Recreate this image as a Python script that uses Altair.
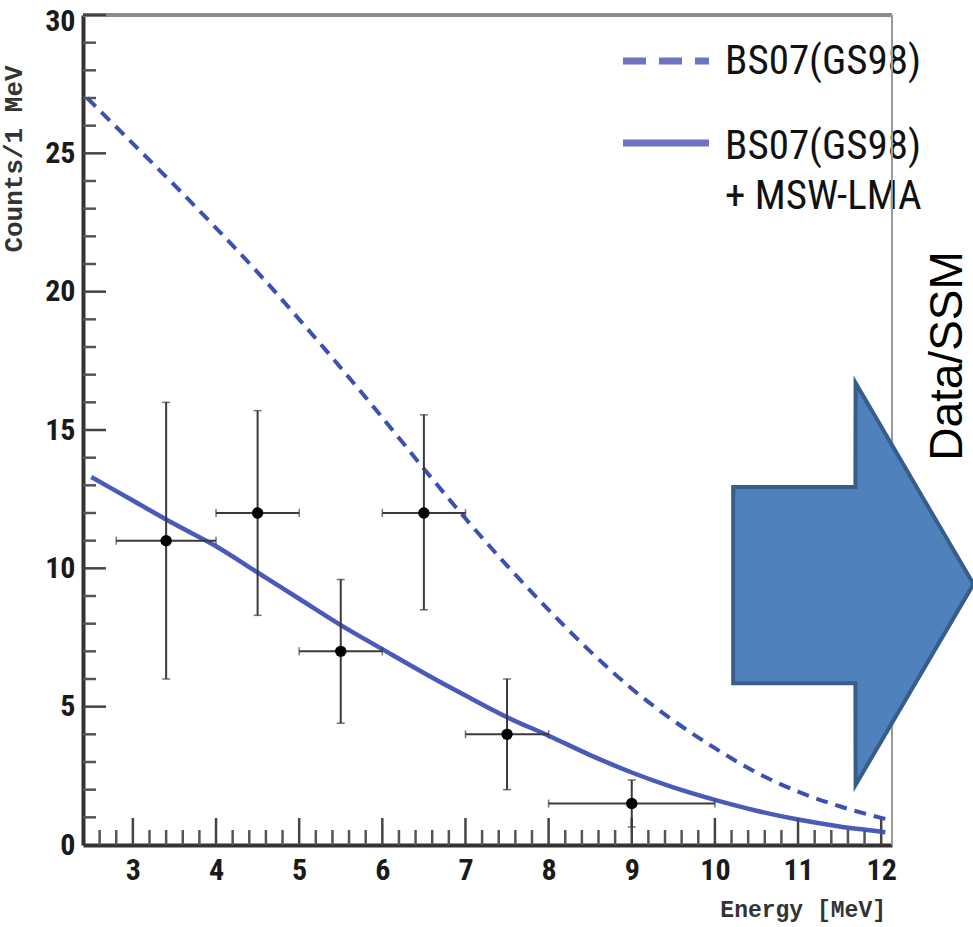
import altair as alt
import pandas as pd

# ---------------- data ----------------
# BS07(GS98) + MSW-LMA (solid curve)
osc_energy = [2.5, 3.0, 3.5, 4.0, 4.5, 5.0, 5.5, 6.0, 6.5, 7.0, 7.5, 8.0,
              8.5, 9.0, 9.5, 10.0, 10.5, 11.0, 11.5, 12.0, 12.05]
osc_counts = [13.3, 12.45, 11.6, 10.8, 9.85, 8.9, 7.95, 7.08, 6.22, 5.4, 4.62, 3.95,
              3.25, 2.62, 2.08, 1.63, 1.24, 0.92, 0.67, 0.48, 0.46]

# BS07(GS98) no oscillation (dashed curve)
ssm_energy = [2.45, 3.0, 3.5, 4.0, 4.5, 5.0, 5.5, 6.0, 6.5, 7.0, 7.5, 8.0,
              8.5, 9.0, 9.5, 10.0, 10.5, 11.0, 11.5, 12.0, 12.08]
ssm_counts = [27.0, 25.35, 23.85, 22.3, 20.7, 19.0, 17.25, 15.45, 13.6, 11.8, 10.1, 8.5,
              7.0, 5.65, 4.5, 3.5, 2.62, 1.93, 1.4, 0.98, 0.92]

# measured points with error bars
pt_energy = [3.4, 4.5, 5.5, 6.5, 7.5, 9.0]
pt_counts = [11, 12, 7, 12, 4, 1.5]
pt_e_lo = [2.8, 4.0, 5.0, 6.0, 7.0, 8.0]
pt_e_hi = [4.0, 5.0, 6.0, 7.0, 8.0, 10.0]
pt_c_lo = [6.0, 8.3, 4.4, 8.5, 2.0, 0.65]
pt_c_hi = [16.0, 15.7, 9.6, 15.55, 6.0, 2.35]

# axis tick labels
x_labels = [3, 4, 5, 6, 7, 8, 9, 10, 11, 12]
y_labels = [0, 5, 10, 15, 20, 25, 30]
x_minor = [round(2.4 + 0.2 * i, 1) for i in range(1, 49)
           if abs(2.4 + 0.2 * i - round(2.4 + 0.2 * i)) > 1e-6]
y_minor = [v for v in range(1, 30) if v % 5 != 0]
y_major = [5, 10, 15, 20, 25, 30]

# block arrow annotation (in Energy / Counts units), outline traced left to right
arrow_energy = [10.22, 11.69, 11.692, 13.11]
arrow_lo = [5.85, 5.85, 2.17, 9.43]
arrow_hi = [12.94, 12.94, 16.70, 9.43]

legend_labels = ["BS07(GS98)", "BS07(GS98)", "+ MSW-LMA"]
side_label = "Data/SSM"
x_title = "Energy [MeV]"
y_title = "Counts/1 MeV"

# ---------------- chart ----------------
W, H = 809, 830
NARROW = "Liberation Sans Narrow, Arial Narrow, Roboto Condensed, Liberation Sans, sans-serif"
MONO = "Liberation Mono, Courier New, DejaVu Sans Mono, monospace"

xs = alt.Scale(domain=[2.4, 12.13], nice=False, zero=False)
ys = alt.Scale(domain=[0, 30], nice=False, zero=True)

one = alt.Data(values=[{}])

osc_df = pd.DataFrame({"e": osc_energy, "c": osc_counts})
ssm_df = pd.DataFrame({"e": ssm_energy, "c": ssm_counts})
pts_df = pd.DataFrame({"e": pt_energy, "c": pt_counts, "elo": pt_e_lo, "ehi": pt_e_hi,
                       "clo": pt_c_lo, "chi": pt_c_hi})
arrow_df = pd.DataFrame({"e": arrow_energy, "lo": arrow_lo, "hi": arrow_hi})

x_axis = alt.Axis(values=x_labels, ticks=False, grid=False, domainColor="#333333",
                  domainWidth=4, labelFont=NARROW, labelFontSize=30, labelFontWeight="bold",
                  labelColor="#1a1a1a", labelPadding=10, title=None, labelFlush=False)
y_axis = alt.Axis(values=y_labels, ticks=False, grid=False, domainColor="#333333",
                  domainWidth=4, labelFont=NARROW, labelFontSize=30, labelFontWeight="bold",
                  labelColor="#1a1a1a", labelPadding=8, title=None, labelFlush=False,
                  labelOffset={"condition": {"test": "datum.value == 30", "value": 6},
                               "value": 0})


def X(field):
    return alt.X(field, type="quantitative", scale=xs, axis=x_axis)


def Y(field):
    return alt.Y(field, type="quantitative", scale=ys, axis=y_axis)


# legend texts (drawn under the frame)
leg_text = [
    alt.Chart(one).mark_text(align="left", baseline="alphabetic", font=NARROW,
                             fontSize=41, color="#111111")
    .encode(x=alt.value(642), y=alt.value(yy), text=alt.value(t))
    for t, yy in zip(legend_labels, [59, 144, 194])
]

top_border = alt.Chart(one).mark_rule(color="#8c8c8c", strokeWidth=4).encode(
    x=alt.value(0), x2=alt.value(W), y=alt.value(0))
right_border = alt.Chart(one).mark_rule(color="#9a9a9a", strokeWidth=2).encode(
    x=alt.value(W), y=alt.value(0), y2=alt.value(H))

# inward ticks
xmaj_df = pd.DataFrame({"e": x_labels})
xmin_df = pd.DataFrame({"e": x_minor})
ymaj_df = pd.DataFrame({"c": y_major})
ymin_df = pd.DataFrame({"c": y_minor})

xt_major = alt.Chart(xmaj_df).mark_rule(color="#444444", strokeWidth=2.5).encode(
    x=X("e"), y=alt.value(H), y2=alt.value(H - 27))
xt_minor = alt.Chart(xmin_df).mark_rule(color="#555555", strokeWidth=2.5).encode(
    x=X("e"), y=alt.value(H), y2=alt.value(H - 15))
yt_major = alt.Chart(ymaj_df).mark_rule(color="#444444", strokeWidth=2.5).encode(
    y=Y("c"), x=alt.value(0), x2=alt.value(23))
yt_minor = alt.Chart(ymin_df).mark_rule(color="#555555", strokeWidth=2.5).encode(
    y=Y("c"), x=alt.value(0), x2=alt.value(13))

# curves
ssm_line = alt.Chart(ssm_df).mark_line(color="#3c50b4", strokeWidth=4, strokeDash=[12, 8],
                                       interpolate="monotone").encode(x=X("e"), y=Y("c"))
osc_line = alt.Chart(osc_df).mark_line(color="#3a4cb2", strokeWidth=4.5, opacity=0.92,
                                       interpolate="monotone").encode(x=X("e"), y=Y("c"))

# error bars
err_col = "#3a3a3a"
h_err = alt.Chart(pts_df).mark_rule(color=err_col, strokeWidth=2).encode(
    x=X("elo"), x2="ehi:Q", y=Y("c"))
v_err = alt.Chart(pts_df).mark_rule(color=err_col, strokeWidth=2).encode(
    x=X("e"), y=Y("clo"), y2="chi:Q")
cap_lo_x = alt.Chart(pts_df).mark_tick(color=err_col, orient="vertical", size=8, thickness=1.5).encode(
    x=X("elo"), y=Y("c"))
cap_hi_x = alt.Chart(pts_df).mark_tick(color=err_col, orient="vertical", size=8, thickness=1.5).encode(
    x=X("ehi"), y=Y("c"))
cap_lo_y = alt.Chart(pts_df).mark_tick(color=err_col, orient="horizontal", size=8, thickness=1.5).encode(
    x=X("e"), y=Y("clo"))
cap_hi_y = alt.Chart(pts_df).mark_tick(color=err_col, orient="horizontal", size=8, thickness=1.5).encode(
    x=X("e"), y=Y("chi"))
points = alt.Chart(pts_df).mark_circle(color="#000000", size=130, opacity=1).encode(
    x=X("e"), y=Y("c"))

# block arrow
arrow = alt.Chart(arrow_df).mark_area(fill="#4F81BD", stroke="#385D8A", strokeWidth=4,
                                      opacity=1, fillOpacity=1, interpolate="linear").encode(
    x=X("e"), y=Y("lo"), y2="hi:Q")

side_text = alt.Chart(one).mark_text(angle=270, align="center", baseline="alphabetic",
                                     font="Liberation Sans, Arial, sans-serif", fontSize=46,
                                     color="#000000").encode(
    x=alt.value(879), y=alt.value(341), text=alt.value(side_label))

# legend symbols
leg_dash = alt.Chart(one).mark_rule(color="#7073bf", strokeWidth=7, strokeDash=[23, 13]).encode(
    x=alt.value(540), x2=alt.value(626), y=alt.value(46))
leg_solid = alt.Chart(one).mark_rule(color="#7073bf", strokeWidth=7).encode(
    x=alt.value(540), x2=alt.value(626), y=alt.value(128))

# axis titles
xt_text = alt.Chart(one).mark_text(align="right", baseline="alphabetic", font=MONO,
                                   fontSize=23, fontWeight="bold", color="#333333").encode(
    x=alt.value(803), y=alt.value(902), text=alt.value(x_title))
yt_text = alt.Chart(one).mark_text(angle=270, align="center", baseline="alphabetic", font=MONO,
                                   fontSize=26, fontWeight="bold", color="#333333").encode(
    x=alt.value(-61), y=alt.value(144), text=alt.value(y_title))

chart = alt.layer(
    *leg_text, top_border, right_border,
    xt_minor, xt_major, yt_minor, yt_major,
    osc_line, ssm_line,
    h_err, v_err, cap_lo_x, cap_hi_x, cap_lo_y, cap_hi_y, points,
    arrow, side_text, leg_dash, leg_solid, xt_text, yt_text,
).properties(
    width=W, height=H,
    autosize=alt.AutoSizeParams(type="none"),
    padding={"left": 83, "top": 15, "right": 81, "bottom": 82},
    background="white",
).configure_view(stroke=None)

chart.save("out.html", embed_options={"renderer": "svg", "actions": False})
